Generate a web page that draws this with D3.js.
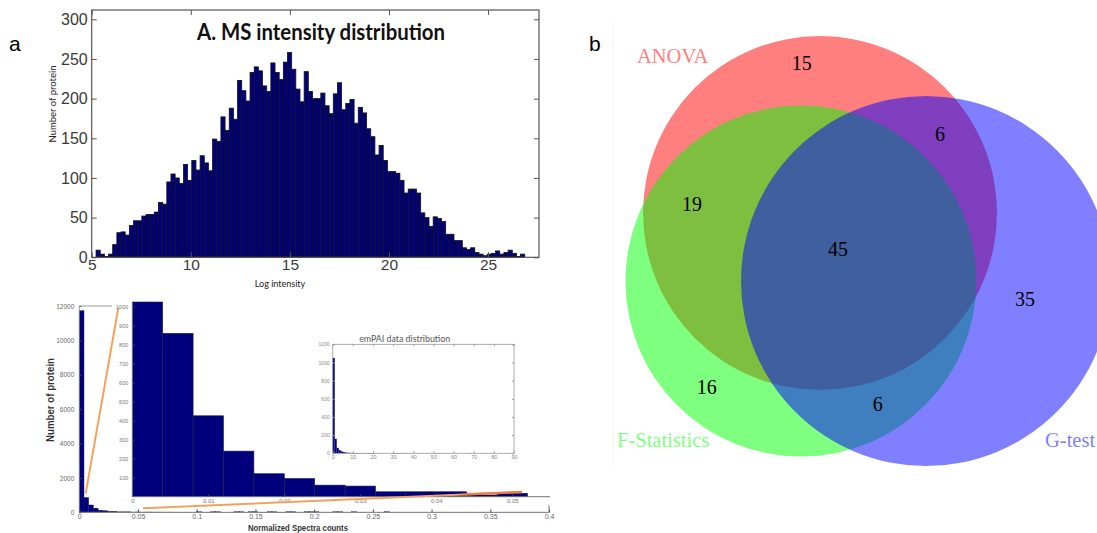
<!DOCTYPE html>
<html>
<head>
<meta charset="utf-8">
<script src="https://cdn.jsdelivr.net/npm/d3@7"></script>
<style>
  body { margin: 0; background: #fff; }
  svg { display: block; }
</style>
</head>
<body>
<svg id="fig" width="1097" height="533"></svg>
<script>
// ---- data ----

// A. MS intensity histogram (log intensity bins, counts)
let ms_range = [5.22, 26.85]
let ms_counts = [
    9, 4, 1, 4, 16, 31, 32, 28, 40, 46, 46, 52, 54, 54, 57, 69, 67, 95, 105, 100,
    93, 117, 97, 122, 110, 128, 119, 109, 149, 146, 177, 160, 188, 174, 223, 210, 197, 233, 240, 235,
    216, 209, 245, 233, 224, 246, 258, 237, 212, 196, 234, 209, 200, 200, 207, 191, 181, 206, 220, 186,
    194, 199, 169, 189, 182, 162, 152, 129, 141, 122, 108, 108, 106, 97, 81, 86, 86, 81, 56, 50,
    39, 51, 49, 45, 29, 29, 21, 21, 12, 10, 12, 6, 4, 2, 4, 5, 8, 4, 6, 9,
    5, 1, 4
]
let ms_x_ticks = [5, 10, 15, 20, 25]
let ms_y_ticks = [0, 50, 100, 150, 200, 250, 300]

// B. normalized spectra counts, bins of 0.004 from 0 to 0.4
let spec_bin = 0.004
let spec_counts = [
    11730, 860, 426, 240, 121, 96, 61, 56, 26, 26, 26, 9, 18, 9, 14, 12, 10, 9, 8, 8,
    7, 6, 6, 5, 5, 30, 4, 4, 30, 30, 3, 4, 3, 30, 30, 3, 30, 30, 3, 3,
    30, 30, 3, 3, 30, 30, 2, 2, 30, 30, 30, 2, 2, 2, 30, 30, 2, 2, 30, 2,
    2, 2, 2, 1, 1, 30, 1, 1, 1, 1, 1, 1, 1, 1, 1, 1, 1, 1, 1, 1,
    1, 1, 1, 1, 1, 1, 1, 1, 1, 1, 1, 1, 1, 1, 1, 1, 1, 1, 1, 1
]
let spec_x_ticks = [0, 0.05, 0.1, 0.15, 0.2, 0.25, 0.3, 0.35, 0.4]
let spec_y_ticks = [0, 2000, 4000, 6000, 8000, 10000, 12000]
let zoom_x_ticks = [0, 0.01, 0.02, 0.03, 0.04, 0.05]
let zoom_y_ticks = [100, 200, 300, 400, 500, 600, 700, 800, 900, 1000]

// emPAI inset, bins of 1
let empai_counts = [
    1050, 160, 60, 35, 22, 14, 9, 6, 5, 4, 3, 3, 2, 2, 2, 1, 1, 3, 4, 3,
    2, 1, 1, 0, 1, 0, 0, 0, 0, 2, 3, 2, 3, 2, 1, 2, 0, 0, 1, 0,
    1, 0, 0, 0, 0, 0, 0, 0, 0, 2, 2, 3, 2, 1, 0, 0, 0, 0, 0, 0,
    0, 0, 0, 0, 0, 0, 0, 0, 0, 0, 0, 0, 0, 0, 0, 0, 0, 0, 0, 0
]
let empai_x_ticks = [0, 10, 20, 30, 40, 50, 60, 70, 80, 90]
let empai_y_ticks = [0, 200, 400, 600, 800, 1000, 1200]

// b. Venn diagram
let venn_sets = ["ANOVA", "F-Statistics", "G-test"]
let venn_colors = ["#ff0000", "#00ff00", "#0000ff"]
let venn_label_colors = ["#ff7f7f", "#7fff7f", "#7f7fff"]
let venn_regions = ["ANOVA", "ANOVA+G", "ANOVA+F", "all", "G", "F", "F+G"]
let venn_counts = [15, 6, 19, 45, 35, 16, 6]


let svg = d3.select("#fig")
let sans = "'Liberation Sans', Arial, sans-serif"
let calib = "Lato, 'Open Sans', sans-serif"
let serif = "'Liberation Serif', 'Times New Roman', serif"
let bar_blue = "#00007c"
let plain = d3.format("")

// panel letters
svg.append("text").attr("x", 9).attr("y", 51).text("a")
    .attr("font-family", sans).attr("font-size", 21)
svg.append("text").attr("x", 589).attr("y", 51).text("b")
    .attr("font-family", sans).attr("font-size", 21)


// ================= A. MS intensity =================
let ax = {l: 91.7, r: 539, t: 10, b: 257.3}
let xA = d3.scaleLinear().domain([5, 27.57]).range([ax.l, ax.r])
let yA = d3.scaleLinear().domain([0, 311.7]).range([ax.b, ax.t])
let binA = (ms_range[1] - ms_range[0]) / ms_counts.length

let gA = svg.append("g")
gA.append("g").selectAll("rect")
    .data(ms_counts)
    .join("rect")
        .attr("x", (d, i) => xA(ms_range[0] + i * binA))
        .attr("width", xA(binA) - xA(0))
        .attr("y", d => yA(d))
        .attr("height", d => yA(0) - yA(d))
        .attr("fill", bar_blue)
        .attr("stroke", "#111")
        .attr("stroke-width", 0.8)

gA.append("rect")
    .attr("x", ax.l).attr("y", ax.t)
    .attr("width", ax.r - ax.l).attr("height", ax.b - ax.t)
    .attr("fill", "none").attr("stroke", "#555").attr("stroke-width", 1.2)

function style_axis(sel, size, color){
    sel.select(".domain").remove()
    sel.selectAll("line").attr("stroke", "#555")
    sel.selectAll("text").attr("font-family", sans).attr("font-size", size).attr("fill", color)
}

gA.append("g").attr("transform", "translate(0," + ax.b + ")")
    .call(d3.axisBottom(xA).tickValues(ms_x_ticks).tickSizeInner(-5).tickSizeOuter(0).tickPadding(2))
    .call(style_axis, 15.5, "#3a3a3a")
gA.append("g").attr("transform", "translate(0," + ax.t + ")")
    .call(d3.axisTop(xA).tickValues(ms_x_ticks).tickSizeInner(-5).tickSizeOuter(0).tickFormat(""))
    .call(style_axis, 15.5, "#3a3a3a")
gA.append("g").attr("transform", "translate(" + ax.l + ",0)")
    .call(d3.axisLeft(yA).tickValues(ms_y_ticks).tickSizeInner(-5).tickSizeOuter(0).tickPadding(4))
    .call(style_axis, 16, "#3a3a3a")
gA.append("g").attr("transform", "translate(" + ax.r + ",0)")
    .call(d3.axisRight(yA).tickValues(ms_y_ticks).tickSizeInner(-5).tickSizeOuter(0).tickFormat(""))
    .call(style_axis, 16, "#3a3a3a")

gA.append("text").text("A. MS intensity distribution")
    .attr("x", 197).attr("y", 40)
    .attr("font-family", calib).attr("font-weight", "bold").attr("font-size", 22)
    .attr("textLength", 248).attr("lengthAdjust", "spacingAndGlyphs").attr("fill", "#111")
gA.append("text").text("Log intensity")
    .attr("x", 280).attr("y", 286.5).attr("text-anchor", "middle")
    .attr("font-family", calib).attr("font-size", 9).attr("fill", "#222")
gA.append("text").text("Number of protein")
    .attr("transform", "translate(56,104) rotate(-90)").attr("text-anchor", "middle")
    .attr("font-family", calib).attr("font-size", 9.5).attr("fill", "#222")


// ================= B. SpecCount =================
let bx = {l: 79.3, r: 549, t: 306, b: 512.3}
let xB = d3.scaleLinear().domain([0, 0.4]).range([bx.l, bx.r])
let yB = d3.scaleLinear().domain([0, 12000]).range([bx.b, bx.t])

let gB = svg.append("g")
gB.append("g").selectAll("rect")
    .data(spec_counts)
    .join("rect")
        .attr("x", (d, i) => xB(i * spec_bin))
        .attr("width", xB(spec_bin) - xB(0))
        .attr("y", d => yB(d))
        .attr("height", d => yB(0) - yB(d))
        .attr("fill", bar_blue)
        .attr("stroke", "#1a1a5a")
        .attr("stroke-width", 0.4)

gB.append("line").attr("x1", bx.l).attr("x2", bx.l).attr("y1", bx.t).attr("y2", bx.b)
    .attr("stroke", "#888").attr("stroke-width", 0.8)
gB.append("line").attr("x1", bx.l).attr("x2", 112).attr("y1", bx.t).attr("y2", bx.t)
    .attr("stroke", "#999").attr("stroke-width", 1)
gB.append("line").attr("x1", bx.l).attr("x2", bx.r).attr("y1", bx.b).attr("y2", bx.b)
    .attr("stroke", "#888").attr("stroke-width", 1)
gB.append("line").attr("x1", bx.r).attr("x2", bx.r).attr("y1", bx.b - 7).attr("y2", bx.b)
    .attr("stroke", "#777").attr("stroke-width", 1)

gB.append("g").attr("transform", "translate(0," + bx.b + ")")
    .call(d3.axisBottom(xB).tickValues(spec_x_ticks).tickSizeInner(-3).tickSizeOuter(0).tickPadding(2)
        .tickFormat(plain))
    .call(style_axis, 7, "#666")
gB.append("g").attr("transform", "translate(" + bx.l + ",0)")
    .call(d3.axisLeft(yB).tickValues(spec_y_ticks).tickSizeInner(-2).tickSizeOuter(0).tickPadding(5)
        .tickFormat(plain))
    .call(style_axis, 6.5, "#666")

gB.append("text").text("Number of protein")
    .attr("transform", "translate(54,400) rotate(-90)").attr("text-anchor", "middle")
    .attr("font-family", sans).attr("font-weight", "bold").attr("font-size", 10.5)
    .attr("textLength", 84).attr("lengthAdjust", "spacingAndGlyphs").attr("fill", "#333")
gB.append("text").text("Normalized Spectra counts")
    .attr("x", 298).attr("y", 531).attr("text-anchor", "middle")
    .attr("font-family", sans).attr("font-weight", "bold").attr("font-size", 9.5)
    .attr("textLength", 100).attr("lengthAdjust", "spacingAndGlyphs").attr("fill", "#333")

// zoomed-in inset of the first bins
let zx = {l: 132.3, r: 550, t: 302, b: 496.7}
let xZ = d3.scaleLinear().domain([0, 0.01]).range([zx.l, zx.l + 76])
let yZ = d3.scaleLinear().domain([0, 1025]).range([zx.b, zx.t])
let zoom_bins = spec_counts.map((d, i) => ({x0: i * spec_bin, v: d}))
    .filter(d => xZ(d.x0 + spec_bin) <= zx.r + 1)

let gZ = svg.append("g")
gZ.append("rect").attr("x", zx.l).attr("y", zx.t - 2)
    .attr("width", zx.r - zx.l).attr("height", zx.b - zx.t + 2).attr("fill", "#fff")
gZ.append("g").selectAll("rect")
    .data(zoom_bins)
    .join("rect")
        .attr("x", d => xZ(d.x0))
        .attr("width", xZ(spec_bin) - xZ(0))
        .attr("y", d => yZ(Math.min(d.v, 1025)))
        .attr("height", d => yZ(0) - yZ(Math.min(d.v, 1025)))
        .attr("fill", bar_blue)
        .attr("stroke", "#20204a")
        .attr("stroke-width", 0.6)
gZ.append("line").attr("x1", zx.l).attr("x2", zx.l).attr("y1", zx.t).attr("y2", zx.b)
    .attr("stroke", "#888").attr("stroke-width", 0.8)
gZ.append("line").attr("x1", zx.l).attr("x2", zx.r).attr("y1", zx.b).attr("y2", zx.b)
    .attr("stroke", "#777").attr("stroke-width", 1)
gZ.append("g").attr("transform", "translate(0," + zx.b + ")")
    .call(d3.axisBottom(xZ).tickValues(zoom_x_ticks).tickSizeInner(-2).tickSizeOuter(0).tickPadding(2)
        .tickFormat(plain))
    .call(style_axis, 6, "#777")
gZ.append("g").attr("transform", "translate(" + zx.l + ",0)")
    .call(d3.axisLeft(yZ).tickValues(zoom_y_ticks).tickSizeInner(-2).tickSizeOuter(0).tickPadding(4)
        .tickFormat(plain))
    .call(style_axis, 5.5, "#777")

// orange zoom guides
let guide = "#f3a25e"
gB.append("line").attr("x1", 118.3).attr("y1", 308).attr("x2", 85.7).attr("y2", 493.3)
    .attr("stroke", guide).attr("stroke-width", 2)
svg.append("line").attr("x1", 143).attr("y1", 508.3).attr("x2", 522).attr("y2", 492)
    .attr("stroke", guide).attr("stroke-width", 2)
svg.append("line").attr("x1", 462).attr("y1", 494.6).attr("x2", 522).attr("y2", 492)
    .attr("stroke", "#e8743a").attr("stroke-width", 2.5).attr("opacity", 0.8)

// emPAI inset
let ex = {l: 332.7, r: 514, t: 344.3, b: 453.3}
let xE = d3.scaleLinear().domain([0, 90]).range([ex.l, ex.r])
let yE = d3.scaleLinear().domain([0, 1200]).range([ex.b, ex.t])
let gE = svg.append("g")
gE.append("g").selectAll("rect")
    .data(empai_counts)
    .join("rect")
        .attr("x", (d, i) => xE(i))
        .attr("width", xE(1) - xE(0))
        .attr("y", d => yE(d))
        .attr("height", d => yE(0) - yE(d))
        .attr("fill", bar_blue)
gE.append("rect").attr("x", ex.l).attr("y", ex.t)
    .attr("width", ex.r - ex.l).attr("height", ex.b - ex.t)
    .attr("fill", "none").attr("stroke", "#999").attr("stroke-width", 0.8)
gE.append("g").attr("transform", "translate(0," + ex.b + ")")
    .call(d3.axisBottom(xE).tickValues(empai_x_ticks).tickSizeInner(-2).tickSizeOuter(0).tickPadding(2))
    .call(style_axis, 5.5, "#888")
gE.append("g").attr("transform", "translate(0," + ex.t + ")")
    .call(d3.axisTop(xE).tickValues(empai_x_ticks).tickSizeInner(-2).tickSizeOuter(0).tickFormat(""))
    .call(style_axis, 5.5, "#888")
gE.append("g").attr("transform", "translate(" + ex.l + ",0)")
    .call(d3.axisLeft(yE).tickValues(empai_y_ticks).tickSizeInner(-2).tickSizeOuter(0).tickPadding(3)
        .tickFormat(plain))
    .call(style_axis, 5, "#888")
gE.append("g").attr("transform", "translate(" + ex.r + ",0)")
    .call(d3.axisRight(yE).tickValues(empai_y_ticks).tickSizeInner(-2).tickSizeOuter(0).tickFormat(""))
    .call(style_axis, 5, "#888")
gE.selectAll("line").attr("stroke", "#999")
gE.append("text").text("emPAI data distribution")
    .attr("x", 404.7).attr("y", 342).attr("text-anchor", "middle")
    .attr("font-family", calib).attr("font-size", 9)
    .attr("textLength", 91).attr("lengthAdjust", "spacingAndGlyphs").attr("fill", "#555")

gB.append("text").text("B. SpecCount and emPAI distribution")
    .attr("x", 187).attr("y", 325)
    .attr("font-family", calib).attr("font-weight", "bold").attr("font-size", 23)
    .attr("textLength", 331).attr("lengthAdjust", "spacingAndGlyphs").attr("fill", "#111")


// ================= b. Venn =================
// layout in pixel units via an identity-like scale
let vs = d3.scaleLinear().domain([0, 1]).range([0, 1])
let venn_circles = [
    {cx: 820, cy: 213, r: 177},
    {cx: 801, cy: 281, r: 175.5},
    {cx: 926, cy: 281, r: 185}
]
let venn_label_pos = [[637, 62.7], [617, 446.7], [1045, 446.7]]
let venn_count_pos = [[801.7, 70], [940, 140.7], [692, 211], [838, 256], [1025, 306], [706.7, 394.3], [877.7, 410.7]]

let gV = svg.append("g")
gV.append("line").attr("x1", 613).attr("x2", 613).attr("y1", 20).attr("y2", 465)
    .attr("stroke", "#f3f3ee").attr("stroke-width", 1)
gV.selectAll("circle")
    .data(venn_sets)
    .join("circle")
        .attr("cx", (d, i) => vs(venn_circles[i].cx))
        .attr("cy", (d, i) => vs(venn_circles[i].cy))
        .attr("r", (d, i) => venn_circles[i].r)
        .attr("fill", (d, i) => venn_colors[i])
        .attr("fill-opacity", 0.5)

gV.selectAll("text.set")
    .data(venn_sets)
    .join("text")
        .attr("class", "set")
        .attr("x", (d, i) => vs(venn_label_pos[i][0]))
        .attr("y", (d, i) => vs(venn_label_pos[i][1]))
        .attr("fill", (d, i) => venn_label_colors[i])
        .attr("font-family", serif).attr("font-size", 20.5)
        .text(d => d)

gV.selectAll("text.count")
    .data(venn_counts)
    .join("text")
        .attr("class", "count")
        .attr("x", (d, i) => vs(venn_count_pos[i][0]))
        .attr("y", (d, i) => vs(venn_count_pos[i][1]))
        .attr("text-anchor", "middle")
        .attr("font-family", serif).attr("font-size", 20)
        .attr("fill", "#000")
        .text(d => d)
</script>
</body>
</html>
